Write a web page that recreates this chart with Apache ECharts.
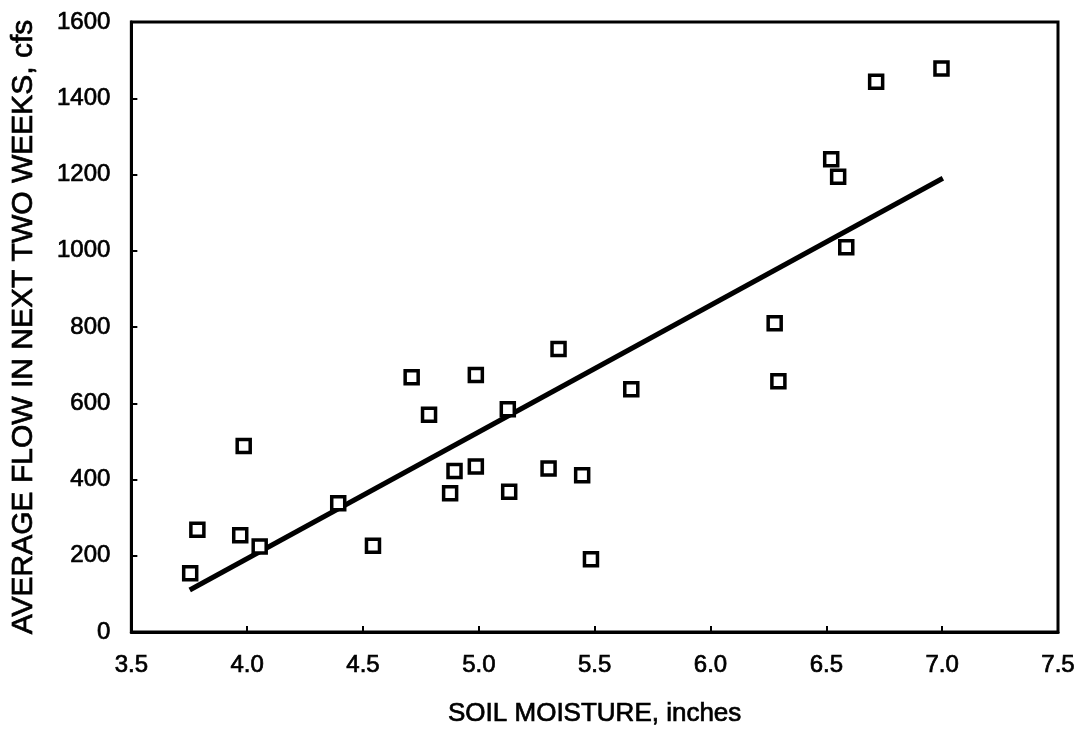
<!DOCTYPE html>
<html>
<head>
<meta charset="utf-8">
<script src="https://cdn.jsdelivr.net/npm/echarts@6/dist/echarts.min.js"></script>
<style>
  html, body { margin: 0; padding: 0; background: #fff; }
  #chart { width: 1088px; height: 733px; }
</style>
</head>
<body>
<div id="chart"></div>
<script>
// Soil moisture (inches) vs. average flow over the following two weeks (cfs)
const soilMoisture = [3.754, 3.785, 3.970, 3.985, 4.054, 4.393, 4.543, 4.710, 4.785, 4.876,
                      4.895, 4.987, 4.987, 5.125, 5.131, 5.301, 5.344, 5.446, 5.484, 5.658,
                      6.277, 6.293, 6.521, 6.551, 6.586, 6.715, 6.997];
const averageFlow  = [154, 268, 254, 488, 224, 338, 226, 668, 570, 364,
                      422, 674, 434, 584, 368, 429, 742, 411, 191, 637,
                      810, 658, 1240, 1194, 1009, 1443, 1478];

// Fitted trend line end points
const trendX = [3.752, 7.003];
const trendY = [110, 1190];

const xTicks = { min: 3.5, max: 7.5, interval: 0.5 };
const yTicks = { min: 0, max: 1600, interval: 200 };

const xTitle = 'SOIL MOISTURE, inches';
const yTitle = 'AVERAGE FLOW IN NEXT TWO WEEKS, cfs';

const FONT = '"Liberation Sans", Arial, Helvetica, sans-serif';
// a thin outline in the text colour gives the heavier print-style strokes
const inkText = { fontFamily: FONT, color: '#000', textBorderColor: '#000', textBorderWidth: 0.7 };

const chart = echarts.init(document.getElementById('chart'), null, { renderer: 'canvas' });

chart.setOption({
  backgroundColor: '#ffffff',
  animation: false,
  grid: {
    left: 130, right: 30, top: 22, bottom: 101,
    show: true, borderColor: '#000', borderWidth: 3, backgroundColor: 'transparent'
  },
  xAxis: {
    type: 'value',
    min: xTicks.min, max: xTicks.max, interval: xTicks.interval,
    name: xTitle,
    nameLocation: 'middle',
    nameGap: 69,
    nameTextStyle: Object.assign({}, inkText, { fontSize: 26 }),
    axisLine: { show: true, lineStyle: { color: '#000', width: 3 } },
    axisTick: { show: true, inside: true, length: 6, lineStyle: { color: '#000', width: 2 } },
    axisLabel: Object.assign({}, inkText, {
      fontSize: 24, margin: 21,
      formatter: v => v.toFixed(1)
    }),
    splitLine: { show: false }
  },
  yAxis: {
    type: 'value',
    min: yTicks.min, max: yTicks.max, interval: yTicks.interval,
    name: yTitle,
    nameLocation: 'middle',
    nameGap: 93,
    nameTextStyle: Object.assign({}, inkText, { fontSize: 30 }),
    axisLine: { show: true, lineStyle: { color: '#000', width: 3 } },
    axisTick: { show: true, inside: true, length: 6, lineStyle: { color: '#000', width: 2 } },
    axisLabel: Object.assign({}, inkText, {
      fontSize: 24, margin: 21,
      formatter: v => String(v)
    }),
    splitLine: { show: false }
  },
  series: [
    {
      type: 'line',
      data: trendX.map((x, i) => [x, trendY[i]]),
      symbol: 'none',
      lineStyle: { color: '#000', width: 5 },
      z: 2
    },
    {
      type: 'scatter',
      data: soilMoisture.map((x, i) => [x, averageFlow[i]]),
      symbol: 'rect',
      symbolSize: 13,
      itemStyle: { color: '#fff', borderColor: '#000', borderWidth: 3.5, opacity: 1 },
      z: 3
    }
  ]
});
</script>
</body>
</html>
